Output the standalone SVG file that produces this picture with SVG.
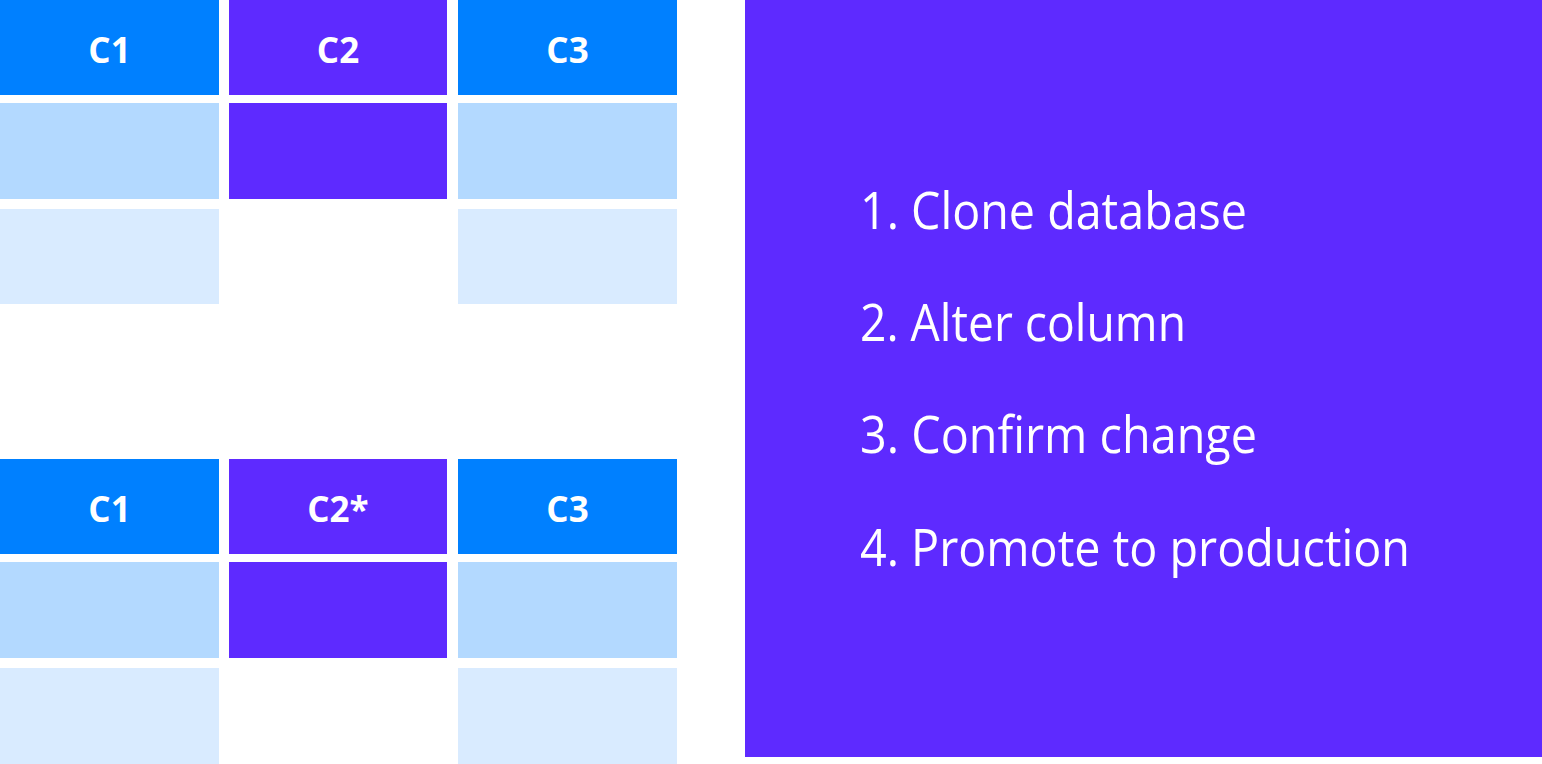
<svg xmlns="http://www.w3.org/2000/svg" width="1542" height="764" viewBox="0 0 1542 764">
<style>
.hb{fill:#0080FF}
.pu{fill:#5E2AFF}
.l1{fill:#B3D9FF}
.l2{fill:#D9EBFF}
.hl{font-family:"Open Sans","Noto Sans",sans-serif;font-weight:700;font-size:35px;fill:#FFFFFF;text-anchor:middle}
.st{font-family:"Open Sans","Noto Sans",sans-serif;font-size:52px;fill:#FFFFFF}
</style>
<rect width="1542" height="764" fill="#FFFFFF"/>
<g id="table-top">
<g id="top-c1"><rect class="hb" x="0" y="0" width="219" height="95"/><text class="hl" x="109.5" y="63">C1</text><rect class="l1" x="0" y="103" width="219" height="96"/><rect class="l2" x="0" y="209" width="219" height="95"/></g>
<g id="top-c2"><rect class="pu" x="229" y="0" width="218" height="95"/><text class="hl" x="338" y="63">C2</text><rect class="pu" x="229" y="103" width="218" height="96"/></g>
<g id="top-c3"><rect class="hb" x="458" y="0" width="219" height="95"/><text class="hl" x="567.5" y="63">C3</text><rect class="l1" x="458" y="103" width="219" height="96"/><rect class="l2" x="458" y="209" width="219" height="95"/></g>
</g>
<g id="table-bottom">
<g id="bot-c1"><rect class="hb" x="0" y="459" width="219" height="95"/><text class="hl" x="109.5" y="522">C1</text><rect class="l1" x="0" y="562" width="219" height="96"/><rect class="l2" x="0" y="668" width="219" height="96"/></g>
<g id="bot-c2"><rect class="pu" x="229" y="459" width="218" height="95"/><text class="hl" x="338" y="522">C2*</text><rect class="pu" x="229" y="562" width="218" height="96"/></g>
<g id="bot-c3"><rect class="hb" x="458" y="459" width="219" height="95"/><text class="hl" x="567.5" y="522">C3</text><rect class="l1" x="458" y="562" width="219" height="96"/><rect class="l2" x="458" y="668" width="219" height="96"/></g>
</g>
<g id="steps">
<rect class="pu" x="745" y="0" width="797" height="757"/>
<text class="st" x="860" y="229" textLength="387" lengthAdjust="spacingAndGlyphs">1. Clone database</text>
<text class="st" x="860" y="341" textLength="326" lengthAdjust="spacingAndGlyphs">2. Alter column</text>
<text class="st" x="860" y="453" textLength="397" lengthAdjust="spacingAndGlyphs">3. Confirm change</text>
<text class="st" x="860" y="566" textLength="550" lengthAdjust="spacingAndGlyphs">4. Promote to production</text>
</g>
<g id="connectors"/>
</svg>
